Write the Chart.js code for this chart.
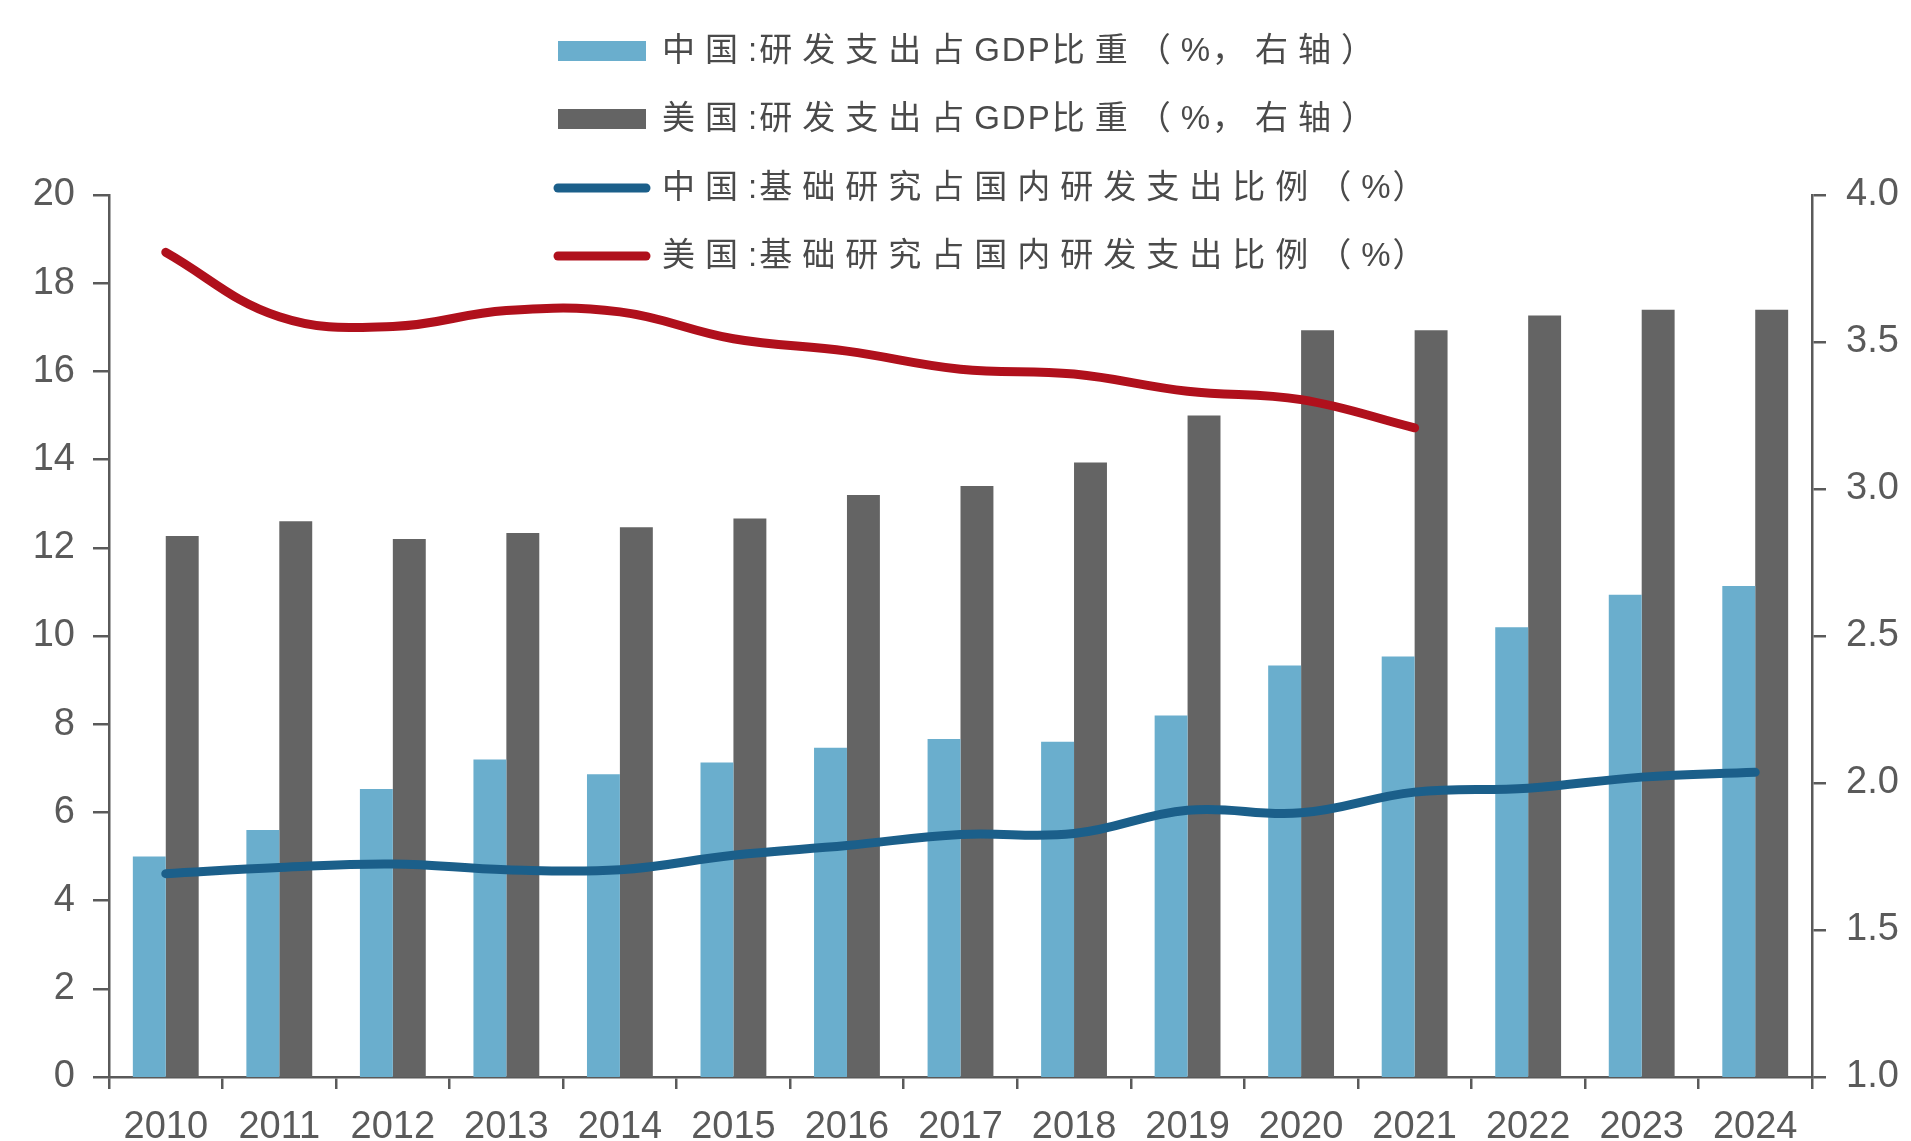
<!DOCTYPE html>
<html>
<head>
<meta charset="utf-8">
<script src="https://cdn.jsdelivr.net/npm/chart.js@4.4.1/dist/chart.umd.min.js"></script>
<style>
html,body{margin:0;padding:0;background:#ffffff;}
canvas{display:block;}
</style>
</head>
<body>
<canvas id="c" width="1911" height="1141"></canvas>
<script>
// ---- data ----
const years = ['2010','2011','2012','2013','2014','2015','2016','2017','2018','2019','2020','2021','2022','2023','2024'];
// R&D spending as % of GDP (right axis)
const chinaRdGdp = [1.75,1.84,1.98,2.08,2.03,2.07,2.12,2.15,2.14,2.23,2.40,2.43,2.53,2.64,2.67];
const usRdGdp    = [2.84,2.89,2.83,2.85,2.87,2.90,2.98,3.01,3.09,3.25,3.54,3.54,3.59,3.61,3.61];
// basic research share of domestic R&D spending (left axis)
const chinaBasicShare = [4.61,4.75,4.83,4.70,4.70,5.03,5.25,5.50,5.52,6.05,5.99,6.46,6.55,6.80,6.91];
const usBasicShare    = [18.70,17.24,17.02,17.38,17.35,16.74,16.46,16.05,15.94,15.55,15.36,14.72,null,null,null];
const seriesLabels = [
  '中国:研发支出占GDP比重（%，右轴）',
  '美国:研发支出占GDP比重（%，右轴）',
  '中国:基础研究占国内研发支出比例（%）',
  '美国:基础研究占国内研发支出比例（%）'
];
const leftAxis = {min:0, max:20, step:2};
const rightAxis = {min:1, max:4, step:0.5};

// ---- style ----
const C_CN_BAR = '#6aaecd';
const C_US_BAR = '#646464';
const C_CN_LINE = '#1b5f8a';
const C_US_LINE = '#b0101c';
const AXIS = '#5a5a5a';
const TICK_FONT = {family:'"Liberation Sans", Arial, sans-serif', size:38};

function drawSpacedText(ctx, text, x, y) {
  let cx = x;
  for (const ch of text) {
    ctx.fillText(ch, cx, y);
    const wide = ch.codePointAt(0) > 0x2E7F;
    cx += ctx.measureText(ch).width + (wide ? 10 : 2);
  }
}

const legendPlugin = {
  id:'customLegend',
  afterDraw(chart){
    const ctx = chart.ctx;
    const x0 = 558, sw = 88, tx = 662;
    const rows = [51, 119, 188, 256];
    ctx.save();
    chart.data.datasets.forEach((ds, i) => {
      const y = rows[i];
      if (ds.type === 'bar') {
        ctx.fillStyle = ds.backgroundColor;
        ctx.fillRect(x0, y - 10, sw, 20);
      } else {
        ctx.strokeStyle = ds.borderColor;
        ctx.lineWidth = 9;
        ctx.lineCap = 'round';
        ctx.beginPath();
        ctx.moveTo(x0, y);
        ctx.lineTo(x0 + sw, y);
        ctx.stroke();
      }
      ctx.font = '33px "Liberation Sans", "Noto Sans CJK SC", sans-serif';
      ctx.fillStyle = '#4a4a4a';
      ctx.textBaseline = 'middle';
      ctx.textAlign = 'left';
      drawSpacedText(ctx, ds.label, tx, y + 1);
    });
    ctx.restore();
  }
};

const gridCommon = {drawOnChartArea:false, drawTicks:true, color:AXIS, lineWidth:2.5};
const borderCommon = {display:true, color:AXIS, width:2.5};

new Chart(document.getElementById('c'), {
  data: {
    labels: years,
    datasets: [
      {type:'bar', label:seriesLabels[0], data:chinaRdGdp, yAxisID:'y1', backgroundColor:C_CN_BAR, order:2,
       categoryPercentage:0.58, barPercentage:1.0},
      {type:'bar', label:seriesLabels[1], data:usRdGdp, yAxisID:'y1', backgroundColor:C_US_BAR, order:2,
       categoryPercentage:0.58, barPercentage:1.0},
      {type:'line', label:seriesLabels[2], data:chinaBasicShare, yAxisID:'y', borderColor:C_CN_LINE, backgroundColor:C_CN_LINE,
       borderWidth:9, pointRadius:0, tension:0.4, borderCapStyle:'round', borderJoinStyle:'round', order:1, fill:false},
      {type:'line', label:seriesLabels[3], data:usBasicShare, yAxisID:'y', borderColor:C_US_LINE, backgroundColor:C_US_LINE,
       borderWidth:9, pointRadius:0, tension:0.4, borderCapStyle:'round', borderJoinStyle:'round', order:0, fill:false}
    ]
  },
  options: {
    responsive:false,
    animation:false,
    devicePixelRatio:1,
    layout:{padding:{top:195, left:0, right:0, bottom:0}},
    plugins:{legend:{display:false}, tooltip:{enabled:false}},
    scales:{
      x:{
        offset:true,
        grid:Object.assign({}, gridCommon, {offset:true, tickLength:12}),
        border:borderCommon,
        ticks:{color:AXIS, font:TICK_FONT, padding:16, autoSkip:false, maxRotation:0, minRotation:0},
        afterFit(s){ s.height = 64; }
      },
      y:{
        position:'left', min:leftAxis.min, max:leftAxis.max,
        grid:Object.assign({}, gridCommon, {tickLength:16}),
        border:borderCommon,
        ticks:{stepSize:leftAxis.step, color:AXIS, font:TICK_FONT, padding:18},
        afterFit(s){ s.width = 109; }
      },
      y1:{
        position:'right', min:rightAxis.min, max:rightAxis.max,
        grid:Object.assign({}, gridCommon, {tickLength:14}),
        border:borderCommon,
        ticks:{stepSize:rightAxis.step, color:AXIS, font:TICK_FONT, padding:20, callback:v => Number(v).toFixed(1)},
        afterFit(s){ s.width = 99; }
      }
    }
  },
  plugins:[legendPlugin]
});
</script>
</body>
</html>
